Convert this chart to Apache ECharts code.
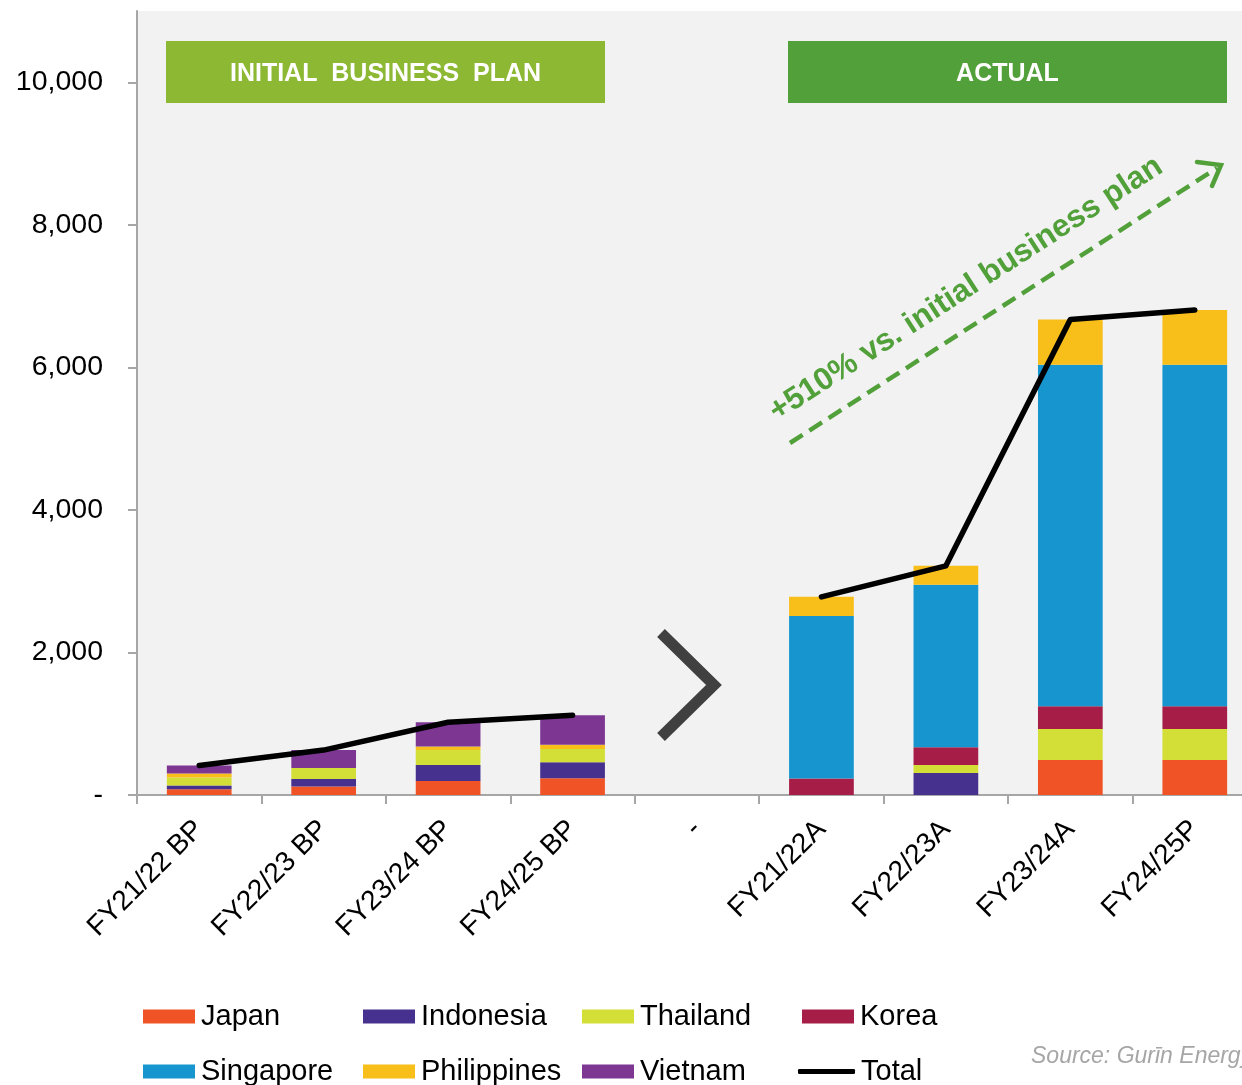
<!DOCTYPE html>
<html>
<head>
<meta charset="utf-8">
<script src="https://cdn.jsdelivr.net/npm/echarts@6/dist/echarts.min.js"></script>
<style>
html,body{margin:0;padding:0;background:#fff;}
#chart{width:1242px;height:1085px;}
</style>
</head>
<body>
<div id="chart"></div>
<script>
// ---- data ----
const categories = ['FY21/22 BP','FY22/23 BP','FY23/24 BP','FY24/25 BP','-','FY21/22A','FY22/23A','FY23/24A','FY24/25P'];
const japan       = [80, 120, 195, 235, null, 0, 0, 490, 490];
const indonesia   = [55, 105, 225, 225, null, 0, 310, 0, 0];
const thailand    = [110, 155, 210, 185, null, 0, 110, 435, 435];
const korea       = [0, 0, 0, 0, null, 230, 250, 320, 320];
const singapore   = [0, 0, 0, 0, null, 2280, 2280, 4790, 4790];
const philippines = [55, 0, 50, 60, null, 270, 265, 635, 770];
const vietnam     = [115, 250, 340, 415, null, 0, 0, 0, 0];
const total       = [415, 630, 1020, 1120, null, 2780, 3215, 6670, 6805];
const yTicks      = [0, 2000, 4000, 6000, 8000, 10000];
const seriesNames = ['Japan','Indonesia','Thailand','Korea','Singapore','Philippines','Vietnam','Total'];
const boxLabels   = ['INITIAL  BUSINESS  PLAN', 'ACTUAL'];
const arrowLabel  = '+510% vs. initial business plan';
const sourceLabel = 'Source: Gurīn Energy';

const colors = {
  Japan:'#F05426', Indonesia:'#46318F', Thailand:'#D3DE37', Korea:'#A61E47',
  Singapore:'#1695CF', Philippines:'#F8BE1A', Vietnam:'#7D3793', Total:'#000000'
};
const FONT = '"Liberation Sans", Arial, sans-serif';
const barData = {Japan:japan, Indonesia:indonesia, Thailand:thailand, Korea:korea,
                 Singapore:singapore, Philippines:philippines, Vietnam:vietnam};

const chart = echarts.init(document.getElementById('chart'), null, {renderer:'canvas'});

const series = Object.keys(barData).map(n => ({
  name:n, type:'bar', stack:'s', data:barData[n], barWidth:'52%',
  itemStyle:{color:colors[n]}, emphasis:{disabled:true}
}));
series.push({
  name:'Total', type:'line', data:total, symbol:'none', connectNulls:false, z:10,
  itemStyle:{color:'#000'},
  lineStyle:{color:'#000', width:5.5, cap:'round', join:'round'}
});

// legend layout: 4 columns x 2 rows
const legCols = [143, 363, 582, 802];
const legRows = [1002, 1057];
const legends = seriesNames.map((n,i) => {
  const isLine = n === 'Total';
  return {
    data:[{name:n, icon: isLine ? 'roundRect' : 'rect'}],
    left: legCols[i%4] - (isLine ? 4 : 0), top: legRows[Math.floor(i/4)],
    padding:0, itemWidth: isLine ? 57 : 52, itemHeight: isLine ? 5 : 14,
    selectedMode:false,
    textStyle:{fontSize:29, color:'#000', fontFamily:FONT, padding:[0,0,0,1]}
  };
});

const green1 = '#8CB833', green2 = '#52A03A';
const arrowAngle = Math.atan2(443-166, 1219-790);

const option = {
  animation:false,
  backgroundColor:'#ffffff',
  grid:{left:137, top:11, width:1120, height:784, show:true, backgroundColor:'#F2F2F2', borderWidth:0,
        outerBoundsMode:'none', containLabel:false},
  xAxis:{
    type:'category', data:categories,
    axisLine:{show:true, lineStyle:{color:'#A6A6A6', width:2}},
    axisTick:{show:true, length:9, lineStyle:{color:'#A6A6A6', width:2}},
    axisLabel:{rotate:45, interval:0, fontSize:28, color:'#000', fontFamily:FONT, margin:30}
  },
  yAxis:{
    type:'value', min:0, max:11000, interval:2000,
    splitLine:{show:false},
    axisLine:{show:true, lineStyle:{color:'#A6A6A6', width:2}},
    axisTick:{show:true, length:9, lineStyle:{color:'#A6A6A6', width:2}, customValues:yTicks},
    axisLabel:{customValues:yTicks, fontSize:28.5, color:'#000', fontFamily:FONT, margin:34,
      formatter: v => v === 0 ? '-' : v.toLocaleString('en-US')}
  },
  legend: legends,
  series: series,
  graphic:[
    {type:'rect', shape:{x:166, y:41, width:439, height:62}, style:{fill:green1}, z:20},
    {type:'text', x:385.5, y:74, style:{text:boxLabels[0], fill:'#fff', font:'bold 25px '+FONT, align:'center', verticalAlign:'middle'}, z:21},
    {type:'rect', shape:{x:788, y:41, width:439, height:62}, style:{fill:green2}, z:20},
    {type:'text', x:1007.5, y:74, style:{text:boxLabels[1], fill:'#fff', font:'bold 25px '+FONT, align:'center', verticalAlign:'middle'}, z:21},
    // chevron separator
    {type:'polyline', shape:{points:[[661,633],[714,685],[661,737]]}, style:{stroke:'#404040', lineWidth:11, fill:null, lineJoin:'miter'}, z:20},
    // dashed growth arrow
    {type:'line', shape:{x1:790, y1:443, x2:1217, y2:168}, style:{stroke:green2, lineWidth:4.5, lineDash:[15,8]}, z:20},
    {type:'polyline', shape:{points:[[1197,162],[1221,165],[1212,186]]}, style:{stroke:green2, lineWidth:4.5, fill:null, lineCap:'round', lineJoin:'miter'}, z:20},
    {type:'text', x:966, y:289, rotation:arrowAngle, style:{text:arrowLabel, fill:green2, font:'bold 31.5px '+FONT, align:'center', verticalAlign:'middle'}, z:21},
    {type:'text', x:1031, y:1057, style:{text:sourceLabel, fill:'#A6A6A6', font:'italic 23px '+FONT, align:'left', verticalAlign:'middle'}, z:21}
  ]
};
chart.setOption(option);
</script>
</body>
</html>
